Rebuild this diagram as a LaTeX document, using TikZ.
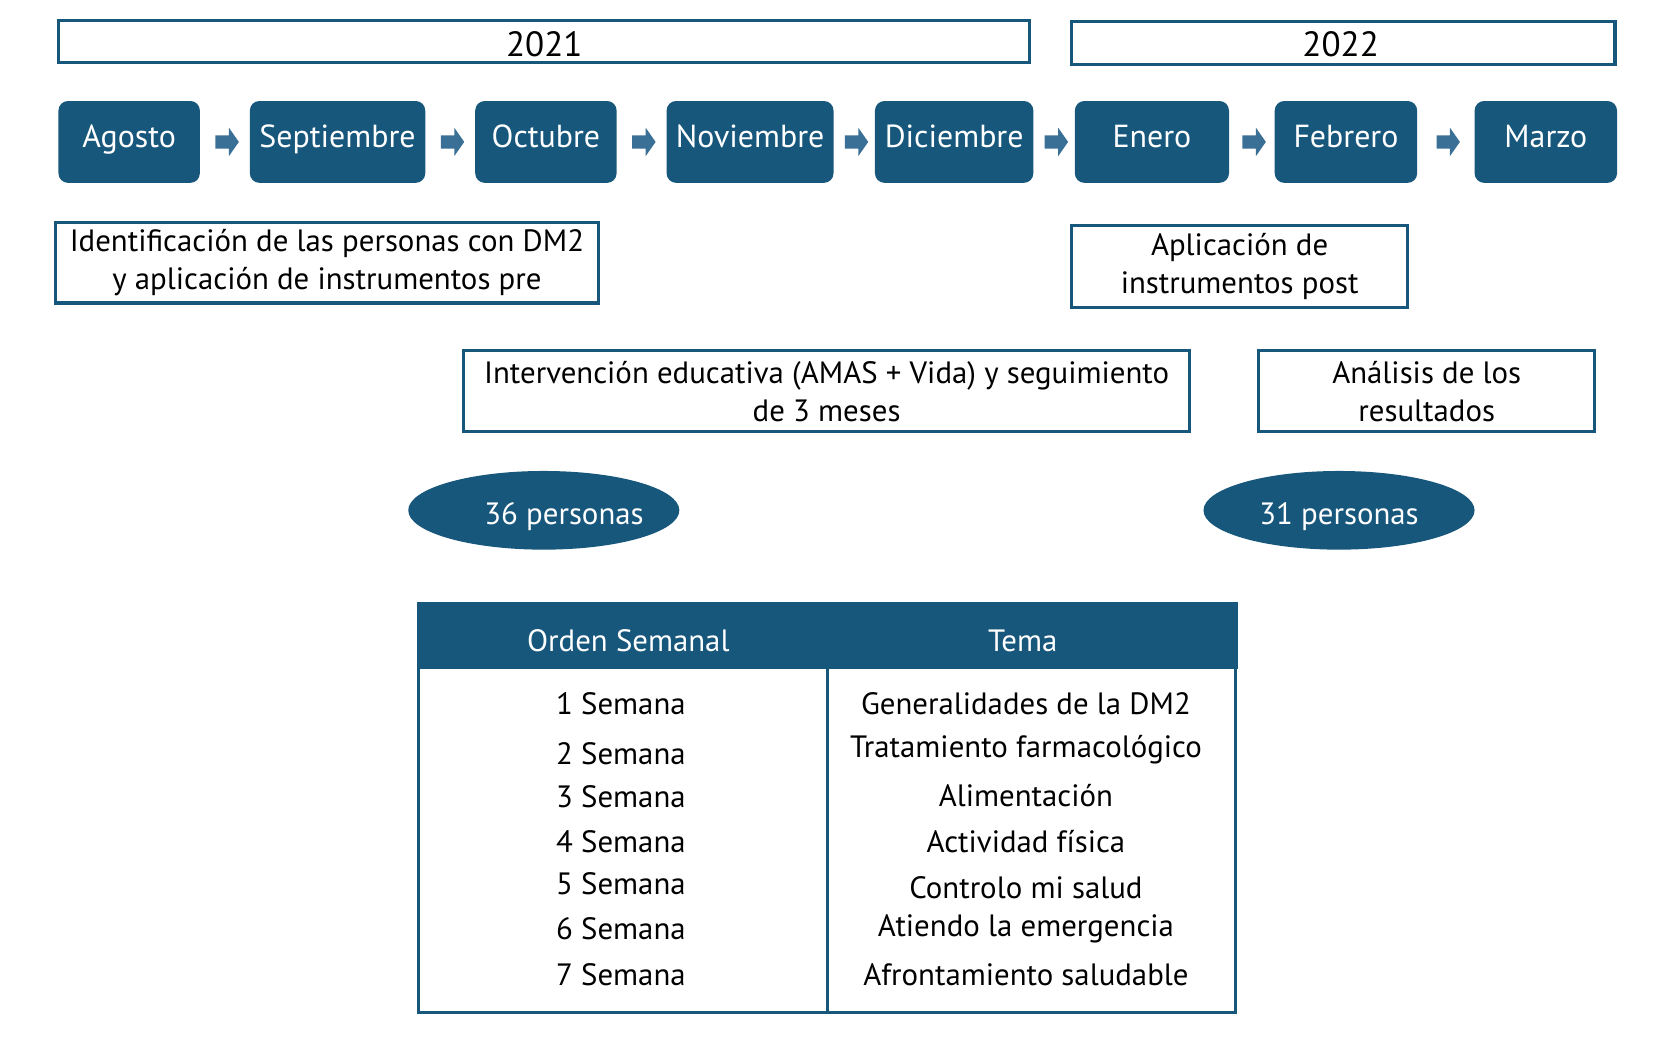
\documentclass[tikz,border=0pt]{standalone}
\usepackage{fontspec}
\setmainfont{PT Sans}
\usepackage{tikz}
\usetikzlibrary{shapes, arrows, calc}
\definecolor{azul}{HTML}{17577C}
\definecolor{azulclaro}{HTML}{3A6F96}
\tikzstyle{anio} = [rectangle, draw=azul, line width=3pt]
\tikzstyle{mes} = [rectangle, rounded corners=9pt, fill=azul, text=white, minimum height=77pt, text height=20pt, text depth=9pt, font=\fontsize{30}{33}\selectfont]
\tikzstyle{etapa} = [rectangle, draw=azul, line width=3pt, align=center, font=\fontsize{29}{36}\selectfont]
\tikzstyle{flecha} = [single arrow, fill=azulclaro, minimum width=26pt, minimum height=22pt, inner xsep=0pt, inner ysep=6pt, single arrow tip angle=110]
\tikzstyle{grupo} = [ellipse, fill=azul, text=white, minimum width=255pt, minimum height=74pt, text height=27pt, text depth=0pt, font=\fontsize{29}{32}\selectfont]
\tikzstyle{celda} = [font=\fontsize{29}{32}\selectfont]

\begin{document}
\begin{tikzpicture}[x=1pt, y=-1pt]
    \useasboundingbox (0,0) rectangle (1568,996);

    % anios
    \node (a2021) [anio, minimum width=913pt, minimum height=40pt] at (511.5,39) {};
    \node at (512,42) [font=\fontsize{33}{36}\selectfont] {2021};
    \node (a2022) [anio, minimum width=511pt, minimum height=41pt] at (1263.5,40.5) {};
    \node at (1261,42) [font=\fontsize{33}{36}\selectfont] {2022};

    % meses
    \node (agosto) [mes, minimum width=133pt] at (121.5,133.5) {Agosto};
    \node (septiembre) [mes, minimum width=165pt] at (317.5,133.5) {Septiembre};
    \node (octubre) [mes, minimum width=133pt] at (513.5,133.5) {Octubre};
    \node (noviembre) [mes, minimum width=157pt] at (705.5,133.5) {Noviembre};
    \node (diciembre) [mes, minimum width=149pt] at (897.5,133.5) {Diciembre};
    \node (enero) [mes, minimum width=145pt] at (1083.5,133.5) {Enero};
    \node (febrero) [mes, minimum width=134pt] at (1266,133.5) {Febrero};
    \node (marzo) [mes, minimum width=134pt] at (1454,133.5) {Marzo};

    \node (f1) [flecha] at ($(agosto.east)!0.5!(septiembre.west)$) {};
    \node (f2) [flecha] at ($(septiembre.east)!0.5!(octubre.west)$) {};
    \node (f3) [flecha] at ($(octubre.east)!0.5!(noviembre.west)$) {};
    \node (f4) [flecha] at ($(noviembre.east)!0.5!(diciembre.west)$) {};
    \node (f5) [flecha] at ($(diciembre.east)!0.5!(enero.west)$) {};
    \node (f6) [flecha] at ($(enero.east)!0.5!(febrero.west)$) {};
    \node (f7) [flecha] at ($(febrero.east)!0.5!(marzo.west)$) {};

    % etapas
    \node (identificacion) [etapa, minimum width=511pt, minimum height=76pt] at (307.5,247) {Identificación de las personas con DM2\\y aplicación de instrumentos pre};
    \node (aplicacion) [etapa, minimum width=316pt, minimum height=77pt] at (1166,250.5) {Aplicación de\\instrumentos post};
    \node (intervencion) [etapa, minimum width=683pt, minimum height=76pt] at (777.5,368) {Intervención educativa (AMAS + Vida) y seguimiento\\de 3 meses};
    \node (analisis) [etapa, minimum width=316pt, minimum height=76pt] at (1342,368) {Análisis de los\\resultados};

    \node (inicio) [grupo] at (511.5,480) {\makebox[0pt]{\hspace{38pt}36 personas}};
    \node (final) [grupo] at (1259.5,480) {31 personas};

    % tabla
    \fill[azul] (392,566) rectangle (1164,629);
    \draw[azul, line width=3pt] (394,629) -- (394,952) -- (1162,952) -- (1162,629);
    \draw[azul, line width=3pt] (778,629) -- (778,952);
    \node (orden) [celda, text=white] at (591,603) {Orden Semanal};
    \node (tema) [celda, text=white] at (962,603) {Tema};
    \foreach \n/\yl/\yr/\txt in {1/662/662/Generalidades de la DM2, 2/709/705/Tratamiento farmacológico, 3/749/748/Alimentación, 4/792/792/Actividad física, 5/831/835/Controlo mi salud, 6/874/874/Atiendo la emergencia, 7/917/917/Afrontamiento saludable}
    {
        \node (s\n) [celda] at (584,\yl) {\n\ Semana};
        \node (t\n) [celda] at (965,\yr) {\txt};
    }
\end{tikzpicture}
\end{document}
